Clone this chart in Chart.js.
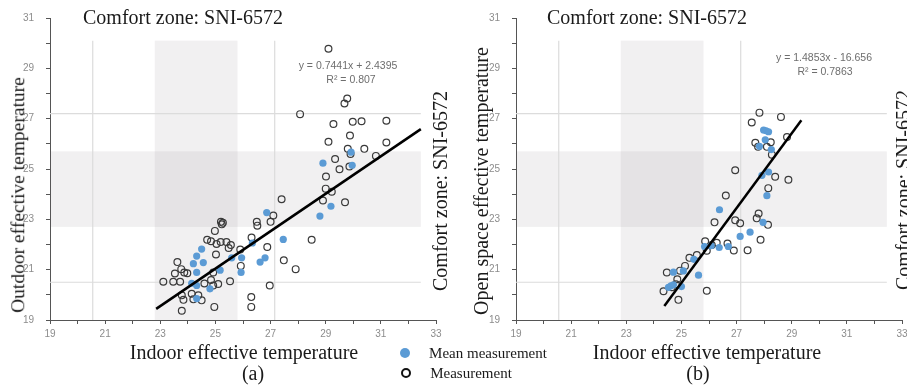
<!DOCTYPE html>
<html>
<head>
<meta charset="utf-8">
<script src="https://cdn.jsdelivr.net/npm/chart.js@4/dist/chart.umd.min.js"></script>
<style>
  html, body { margin: 0; padding: 0; background: #fff; }
  body { width: 907px; height: 385px; overflow: hidden; position: relative; }
  .box { position: absolute; top: 0; height: 385px; }
  .t { position: absolute; transform: translate(-50%, -50%); white-space: nowrap; line-height: 1; z-index: 2; }
  .serif { font-family: "Liberation Serif", "DejaVu Serif", serif; color: #1a1a1a; }
  .rot { transform: translate(-50%, -50%) rotate(-90deg); }
  .eq { font-family: "Liberation Sans", Arial, sans-serif; font-size: 10.5px; color: #6e6e6e; }
  .dot { position: absolute; border-radius: 50%; z-index: 2; }
</style>
</head>
<body>

<div class="box" style="left:0;width:446px"><canvas id="chartA"></canvas></div>
<div class="box" style="left:466px;width:451px"><canvas id="chartB"></canvas></div>

<!-- titles -->
<div class="t serif" style="left:183px;top:17px;font-size:20px">Comfort zone: SNI-6572</div>
<div class="t serif" style="left:647px;top:17px;font-size:20px">Comfort zone: SNI-6572</div>
<div class="t serif rot" style="left:440px;top:191px;font-size:20px">Comfort zone: SNI-6572</div>
<div class="t serif rot" style="left:903px;top:190px;font-size:20px">Comfort zone: SNI-6572</div>

<!-- axis titles -->
<div class="t serif rot" style="left:18px;top:195px;font-size:19.5px">Outdoor effective temperature</div>
<div class="t serif rot" style="left:481px;top:181px;font-size:20px">Open space effective temperature</div>
<div class="t serif" style="left:244px;top:352px;font-size:20px">Indoor effective temperature</div>
<div class="t serif" style="left:707px;top:352px;font-size:20px">Indoor effective temperature</div>
<div class="t serif" style="left:253px;top:373px;font-size:20px">(a)</div>
<div class="t serif" style="left:698px;top:373px;font-size:20px">(b)</div>

<!-- trend equations -->
<div class="t eq" style="left:348px;top:65px">y = 0.7441x + 2.4395</div>
<div class="t eq" style="left:351px;top:79px">R² = 0.807</div>
<div class="t eq" style="left:824px;top:57px">y = 1.4853x - 16.656</div>
<div class="t eq" style="left:825px;top:71px">R² = 0.7863</div>

<!-- legend -->
<div class="dot" style="left:400px;top:348px;width:10px;height:10px;background:#5b9bd5"></div>
<div class="t serif" style="left:488px;top:353px;font-size:15px">Mean measurement</div>
<div class="dot" style="left:401px;top:368px;width:6px;height:6px;border:2px solid #111"></div>
<div class="t serif" style="left:471px;top:373px;font-size:15px">Measurement</div>

<script>
// axis ranges
const xRange = [19, 33];
const yRange = [19, 31];

// comfort zone (SNI-6572) and guide lines
const comfortX = [22.8, 25.8];
const comfortY = [22.7, 25.7];
const guideX = [20.55, 27.15];
const guideY = [20.5, 27.2];
const zoneEnd = [32.45, 30.1]; // x right end, y top end

// (a) outdoor vs indoor
const meanA = [
  [24.5, 21.82], [24.32, 21.54], [24.56, 21.28], [24.2, 21.24], [24.32, 20.89], [24.14, 20.46],
  [24.32, 20.37], [24.8, 20.24], [24.32, 19.85], [25.17, 20.98], [25.59, 21.47], [25.95, 21.47],
  [25.93, 20.89], [26.34, 22.06], [26.62, 21.3], [26.8, 21.47], [26.86, 23.27], [27.46, 22.2],
  [28.79, 23.13], [29.19, 23.52], [28.9, 25.23], [29.92, 25.67], [29.96, 25.15]
];
const measA = [
  [23.11, 20.52], [23.47, 20.52], [23.72, 20.52], [23.62, 21.3], [23.76, 21.02], [23.53, 20.85],
  [23.87, 20.89], [23.98, 20.86], [23.78, 19.98], [23.84, 19.8], [24.14, 20.04], [24.2, 19.82],
  [24.38, 19.98], [24.5, 19.78], [23.78, 19.37], [24.7, 22.19], [24.84, 22.13], [25.04, 22.02],
  [25.19, 22.1], [25.23, 22.8], [25.2, 22.9], [25.27, 22.86], [24.98, 22.54], [25.4, 22.1],
  [25.48, 21.86], [25.56, 21.98], [25.02, 21.6], [24.84, 20.59], [24.92, 20.37], [24.92, 20.89],
  [25.1, 20.43], [24.6, 20.45], [24.96, 19.52], [25.53, 20.54], [25.92, 21.15], [25.9, 21.8],
  [26.3, 19.91], [26.3, 19.52], [26.31, 22.28], [26.5, 22.9], [26.52, 22.75], [26.88, 21.9],
  [26.97, 20.37], [27.0, 22.9], [27.1, 23.15], [27.4, 23.8], [27.48, 21.37], [27.91, 21.02],
  [28.49, 22.19], [28.9, 23.75], [29.0, 24.22], [29.22, 24.1], [29.7, 23.68], [29.01, 24.7],
  [29.5, 24.99], [29.86, 25.1], [29.34, 25.4], [29.9, 25.6], [30.82, 25.52], [29.8, 25.8],
  [30.4, 25.8], [29.1, 26.08], [29.88, 26.33], [31.2, 26.05], [29.28, 26.79], [29.98, 26.88],
  [30.3, 26.9], [31.2, 26.92], [28.07, 27.18], [29.68, 27.6], [29.78, 27.8], [29.1, 29.78]
];
const trendA = [0.7441, 2.4395, 22.85, 32.45]; // slope, intercept, x from, x to

// (b) open space vs indoor
const meanB = [
  [24.53, 20.3], [24.62, 20.36], [24.71, 20.4], [25.0, 20.33], [24.71, 20.9], [25.07, 20.95],
  [25.62, 20.78], [25.45, 21.41], [25.84, 21.92], [26.08, 21.95], [26.37, 21.88], [26.7, 21.92],
  [26.38, 23.38], [27.13, 22.32], [27.49, 22.49], [27.96, 22.88], [28.1, 23.94], [27.92, 24.75],
  [28.16, 24.88], [27.83, 25.9], [28.26, 25.77], [28.04, 26.16], [27.98, 26.55], [28.07, 26.52],
  [28.16, 26.48]
];
const measB = [
  [24.35, 20.14], [24.47, 20.89], [24.65, 20.3], [24.8, 20.42], [24.85, 20.62], [24.89, 19.8],
  [24.95, 20.96], [25.13, 21.15], [25.29, 21.47], [25.56, 21.58], [25.92, 20.16], [25.86, 22.13],
  [25.92, 21.75], [26.1, 21.98], [26.28, 22.07], [26.2, 22.88], [26.61, 23.95], [26.67, 22.04],
  [26.9, 21.76], [26.95, 22.96], [27.13, 22.84], [27.4, 21.77], [27.73, 23.04], [27.8, 23.23],
  [27.87, 22.19], [28.14, 22.78], [28.15, 24.24], [28.4, 24.69], [28.88, 24.57],
  [26.95, 24.95], [27.78, 25.88], [28.1, 25.88], [28.24, 26.06], [27.68, 26.04], [28.28, 25.57],
  [28.83, 26.27], [27.55, 26.85], [27.83, 27.24], [28.61, 27.07]
];
const trendB = [1.4853, -16.656, 24.38, 29.35];

const toPoints = arr => arr.map(p => ({ x: p[0], y: p[1] }));
const trendPoints = t => [t[2], t[3]].map(x => ({ x: x, y: t[0] * x + t[1] }));

// shaded comfort bands + light guide lines, drawn with the chart scales
const zonePlugin = {
  id: 'zones',
  beforeDatasetsDraw(chart) {
    const { ctx, scales: { x, y } } = chart;
    const px = v => x.getPixelForValue(v);
    const py = v => y.getPixelForValue(v);
    ctx.save();
    ctx.fillStyle = 'rgba(100, 90, 95, 0.09)';
    ctx.fillRect(px(comfortX[0]), py(zoneEnd[1]), px(comfortX[1]) - px(comfortX[0]), py(yRange[0]) - py(zoneEnd[1]));
    ctx.fillRect(px(xRange[0]), py(comfortY[1]), px(zoneEnd[0]) - px(xRange[0]), py(comfortY[0]) - py(comfortY[1]));
    ctx.strokeStyle = '#dcdcdc';
    ctx.lineWidth = 1.2;
    ctx.beginPath();
    for (let gx of guideX) {
      ctx.moveTo(px(gx), py(zoneEnd[1]));
      ctx.lineTo(px(gx), py(yRange[0]));
    }
    for (let gy of guideY) {
      ctx.moveTo(px(xRange[0]), py(gy));
      ctx.lineTo(px(zoneEnd[0]), py(gy));
    }
    ctx.stroke();
    ctx.restore();
  }
};

function axis(min, max, fit) {
  return {
    type: 'linear',
    min: min,
    max: max,
    afterFit: fit,
    border: { display: true, color: '#555', width: 1 },
    grid: { drawOnChartArea: false, drawTicks: true, tickLength: 4, color: '#555' },
    ticks: {
      stepSize: 1,
      autoSkip: false,
      maxRotation: 0,
      padding: 4,
      color: '#8c8c8c',
      font: { family: 'Liberation Sans', size: 10 },
      callback: v => (v % 2 === 1 ? v : '')
    }
  };
}

function makeChart(id, mean, meas, trend, pad) {
  const ctx = document.getElementById(id).getContext('2d');
  const yAxis = axis(yRange[0], yRange[1], s => { s.width = 30; });
  yAxis.ticks.padding = 12;
  return new Chart(ctx, {
    type: 'scatter',
    data: {
      datasets: [{
        type: 'line',
        label: 'trend',
        data: trendPoints(trend),
        borderColor: '#000',
        borderWidth: 2.5,
        pointRadius: 0,
        order: 0
      },
      {
        label: 'Mean measurement',
        data: toPoints(mean),
        backgroundColor: '#5b9bd5',
        borderWidth: 0,
        pointRadius: 3.6,
        order: 1
      },
      {
        label: 'Measurement',
        data: toPoints(meas),
        backgroundColor: 'rgba(255,255,255,0)',
        borderColor: '#3a3a3a',
        borderWidth: 1.2,
        pointRadius: 3.4,
        order: 2
      }]
    },
    options: {
      responsive: true,
      maintainAspectRatio: false,
      animation: false,
      layout: { padding: pad },
      plugins: { legend: { display: false }, tooltip: { enabled: false } },
      scales: {
        x: axis(xRange[0], xRange[1], s => { s.height = 25; }),
        y: yAxis
      }
    },
    plugins: [zonePlugin]
  });
}

makeChart('chartA', meanA, measA, trendA, { left: 20, right: 10, top: 13, bottom: 40 });
makeChart('chartB', meanB, measB, trendB, { left: 20, right: 15, top: 13, bottom: 40 });
</script>
</body>
</html>
